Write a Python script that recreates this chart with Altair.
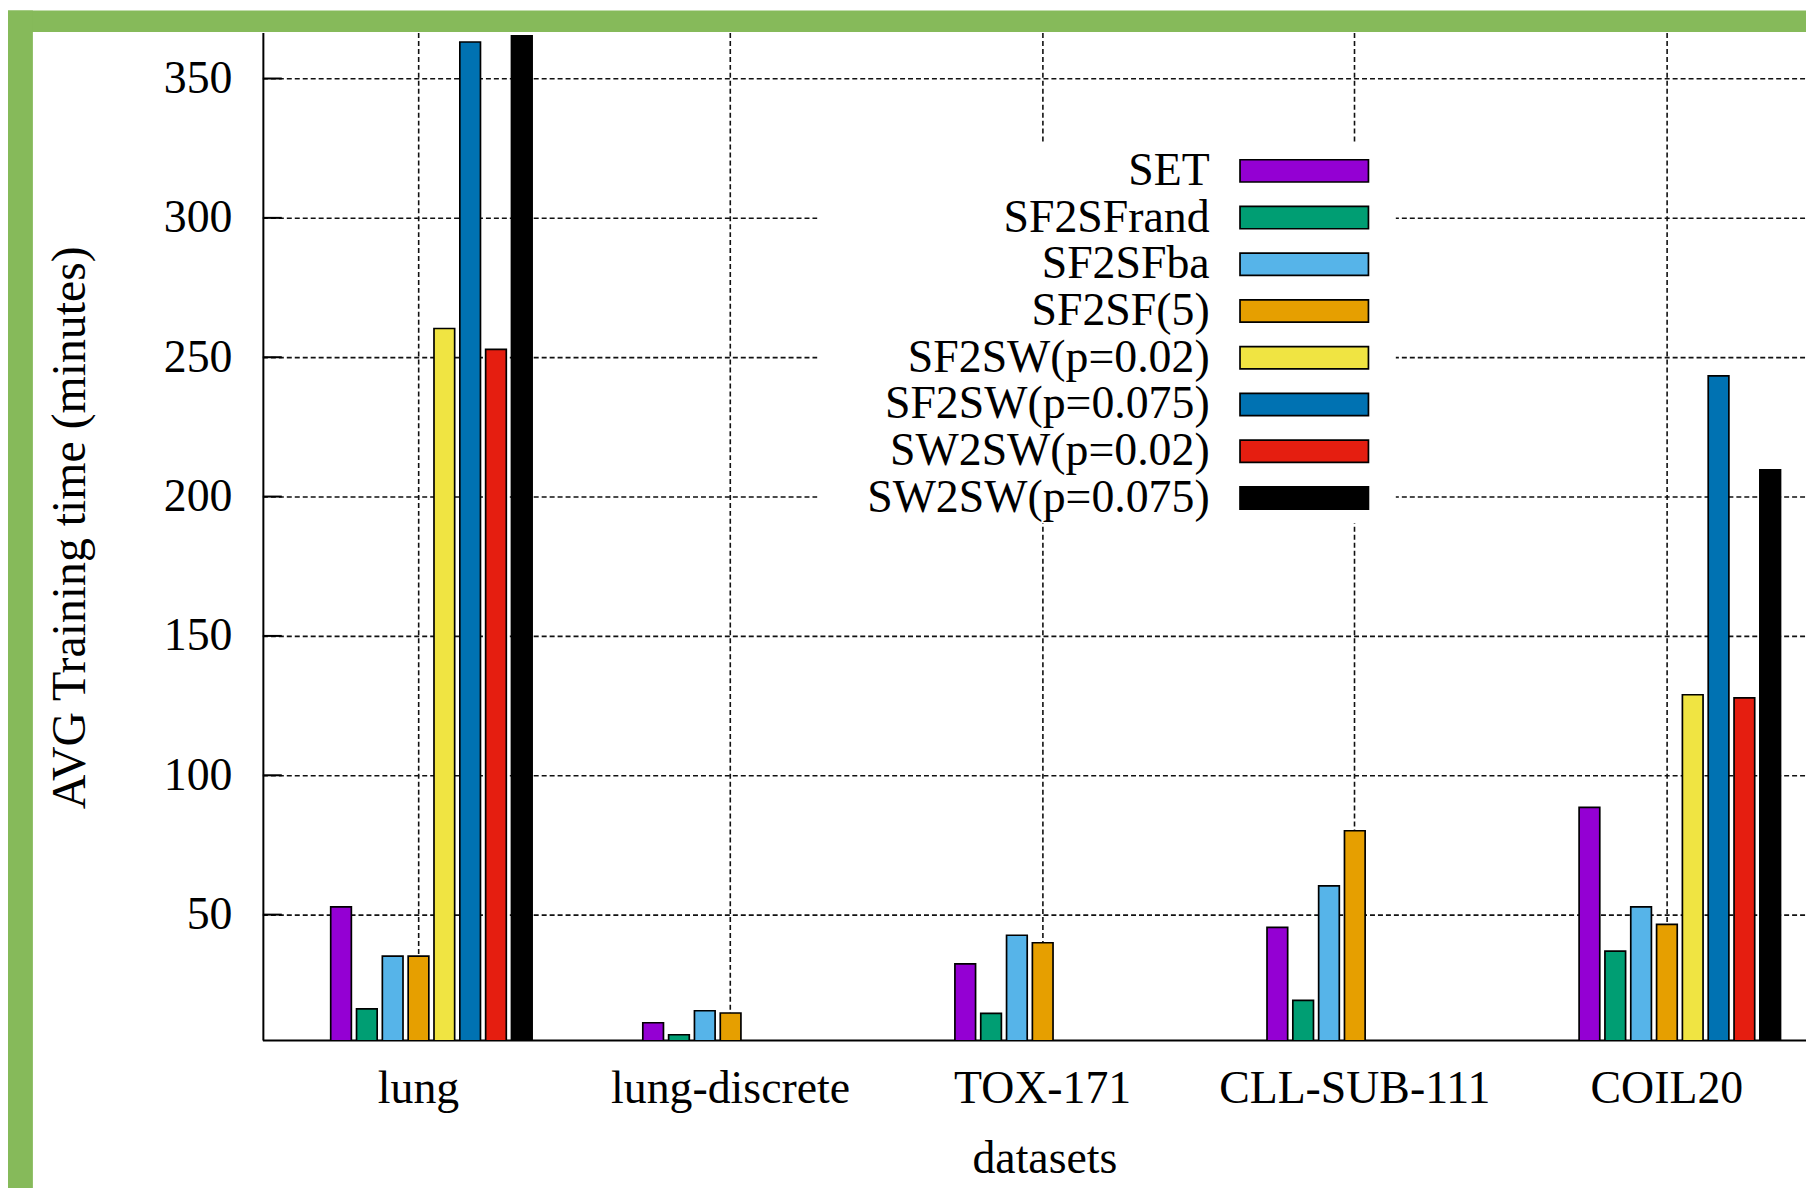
import altair as alt
import pandas as pd

# ---------------- data ----------------
datasets = ["lung", "lung-discrete", "TOX-171", "CLL-SUB-111", "COIL20"]
series = ["SET", "SF2SFrand", "SF2SFba", "SF2SF(5)",
          "SF2SW(p=0.02)", "SF2SW(p=0.075)", "SW2SW(p=0.02)", "SW2SW(p=0.075)"]
colors = ["#9400d3", "#009e73", "#56b4e9", "#e69f00",
          "#f0e442", "#0072b2", "#e51e10", "#000000"]

lung = [52.8, 16.2, 35.1, 35.1, 260.3, 363.1, 252.8, 365.3]
lung_discrete = [11.2, 6.9, 15.5, 14.7]
tox_171 = [32.3, 14.6, 42.6, 39.9]
cll_sub_111 = [45.4, 19.2, 60.3, 80.1]
coil20 = [88.5, 36.9, 52.8, 46.5, 128.9, 243.3, 127.8, 209.6]

y_ticks = [50, 100, 150, 200, 250, 300, 350]
y_domain = [5, 366.5]

rows = []
for name, vals in zip(datasets, [lung, lung_discrete, tox_171, cll_sub_111, coil20]):
    for s, v in zip(series, vals):
        rows.append({"dataset": name, "series": s, "value": v})
df = pd.DataFrame(rows)

FONT = "Liberation Serif"
GREEN = "#86ba5a"
GRID = "#111"

color_enc = alt.Color("series:N", scale=alt.Scale(domain=series, range=colors), legend=None)

bars = alt.Chart(df).mark_bar(stroke="black", strokeWidth=1.7, clip=True).encode(
    x=alt.X("dataset:N", sort=datasets,
            scale=alt.Scale(domain=datasets, range=[-0.45, 1567], paddingInner=0, paddingOuter=0),
            axis=alt.Axis(title="datasets", labelAngle=0, grid=True, ticks=False, tickSize=0,
                          domainColor="black", domainWidth=2,
                          gridColor=GRID, gridDash=[5, 3], gridWidth=1.6, gridOpacity=1,
                          labelFont=FONT, labelFontSize=46, labelColor="black",
                          labelPadding=63, labelBaseline="alphabetic", labelLimit=500,
                          titleFont=FONT, titleFontSize=46, titleFontWeight="normal",
                          titleColor="black", titleX=785, titleY=133,
                          titleBaseline="alphabetic", titleAlign="center")),
    xOffset=alt.XOffset("series:N", sort=series,
                        scale=alt.Scale(domain=series, range=[68.59, 270.9],
                                        paddingInner=0.2, paddingOuter=0)),
    y=alt.Y("value:Q", scale=alt.Scale(domain=y_domain, zero=False, nice=False),
            axis=alt.Axis(orient="left", values=y_ticks, title="AVG Training time (minutes)",
                          grid=True, ticks=False, tickSize=0,
                          domainColor="black", domainWidth=2,
                          gridColor=GRID, gridDash=[5, 3], gridWidth=1.6, gridOpacity=1,
                          labelFont=FONT, labelFontSize=46, labelColor="black",
                          labelPadding=31, labelBaseline="middle",
                          titleFont=FONT, titleFontSize=48, titleFontWeight="normal",
                          titleColor="black", titleAngle=270, titleX=-179, titleY=497,
                          titleAlign="center", titleBaseline="alphabetic")),
    color=color_enc,
)

# inward major ticks on the y axis
ticks = alt.Chart(pd.DataFrame({"t": y_ticks})).mark_rule(color="black", strokeWidth=2).encode(
    y=alt.Y("t:Q", scale=alt.Scale(domain=y_domain, zero=False, nice=False), axis=None),
    x=alt.value(0), x2=alt.value(19),
)

# opaque key box
keybox = alt.Chart(pd.DataFrame({"k": [0]})).mark_rect(fill="white").encode(
    x=alt.value(557), x2=alt.value(1138), y=alt.value(112), y2=alt.value(493)
)

leg_df = pd.DataFrame({"series": series})
leg_y = alt.Y("series:N", sort=series,
              scale=alt.Scale(domain=series, range=[115.5, 490.9],
                              paddingInner=0.523, paddingOuter=0.2615),
              axis=None)
leg_rect = alt.Chart(leg_df).mark_rect(stroke="black", strokeWidth=1.7).encode(
    y=leg_y, x=alt.value(981.5), x2=alt.value(1110.5), color=color_enc
)
leg_text = alt.Chart(leg_df).mark_text(align="right", baseline="middle", font=FONT,
                                       fontSize=46, color="black").encode(
    y=leg_y, x=alt.value(951), text="series:N"
)

# green page border of the screenshot
green_top = alt.Chart(pd.DataFrame({"k": [0]})).mark_rect(fill=GREEN).encode(
    x=alt.value(-256), x2=alt.value(1550), y=alt.value(-22), y2=alt.value(-0.5)
)
green_left = alt.Chart(pd.DataFrame({"k": [0]})).mark_rect(fill=GREEN).encode(
    x=alt.value(-256), x2=alt.value(-231), y=alt.value(-22), y2=alt.value(1162)
)

chart = alt.layer(bars, ticks, keybox, leg_rect, leg_text, green_top, green_left).resolve_scale(
    y="independent"
).properties(
    width=1550, height=1012,
    autosize=alt.AutoSizeParams(type="none"),
    padding={"left": 256, "top": 22, "right": 0, "bottom": 150},
).configure(background="white").configure_view(stroke=None)

chart.save("out.html", embed_options={"renderer": "svg", "actions": False})
